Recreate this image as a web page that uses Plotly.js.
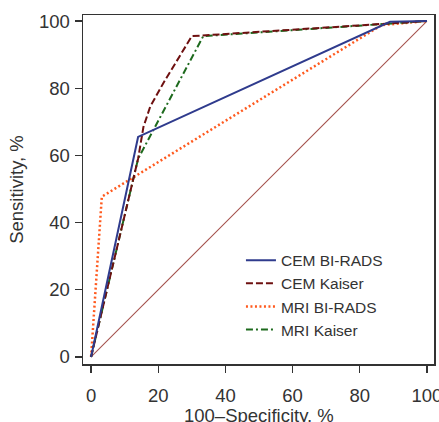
<!DOCTYPE html>
<html>
<head>
<meta charset="utf-8">
<script src="https://cdn.plot.ly/plotly-3.0.1.min.js"></script>
<style>html,body{margin:0;padding:0;background:#fff;}#chart{width:439px;height:422px;}</style>
</head>
<body>
<div id="chart"></div>
<script>
const seriesNames = ["CEM BI-RADS", "CEM Kaiser", "MRI BI-RADS", "MRI Kaiser"];
const cemBiradsX = [0, 14, 89, 100];
const cemBiradsY = [0, 65.5, 99.8, 100];
const cemKaiserX = [0, 14, 15.6, 17.6, 21.5, 30, 100];
const cemKaiserY = [0, 59, 68.5, 74.5, 81.5, 95.5, 100];
const mriBiradsX = [0, 3.2, 86.5, 100];
const mriBiradsY = [0, 47.7, 98.8, 100];
const mriKaiserX = [0, 14, 33.4, 100];
const mriKaiserY = [0, 59, 95.5, 100];
const refX = [0, 100];
const refY = [0, 100];
const tickVals = [0, 20, 40, 60, 80, 100];
const xTitle = '100–Specificity, %';
const yTitle = 'Sensitivity, %';

const traces = [
  {x: refX, y: refY, mode: 'lines', line: {color: '#a5524d', width: 1.1}, showlegend: false, hoverinfo: 'skip'},
  {x: mriBiradsX, y: mriBiradsY, name: seriesNames[2], legendrank: 3, mode: 'lines', line: {color: '#ff5a1e', width: 2.5, dash: '2px,2.5px'}},
  {x: mriKaiserX, y: mriKaiserY, name: seriesNames[3], legendrank: 4, mode: 'lines', line: {color: '#1d6a1d', width: 2, dash: '7px,3px,2px,3px'}},
  {x: cemKaiserX, y: cemKaiserY, name: seriesNames[1], legendrank: 2, mode: 'lines', line: {color: '#6e1010', width: 2, dash: '7px,3px'}},
  {x: cemBiradsX, y: cemBiradsY, name: seriesNames[0], legendrank: 1, mode: 'lines', line: {color: '#2f3b8d', width: 2}}
];

const axisCommon = {
  showgrid: false, zeroline: false, showline: true, mirror: true,
  linecolor: '#333', linewidth: 1.5, ticks: 'outside', ticklen: 7, tickwidth: 1.2, tickcolor: '#333',
  ticklabeloverflow: 'allow',
  tickvals: tickVals, tickfont: {family: 'Liberation Sans, Arial, sans-serif', size: 18.5, color: '#333'}
};

const layout = {
  width: 439, height: 422,
  margin: {l: 83, r: 5, t: 15, b: 58},
  paper_bgcolor: '#fff', plot_bgcolor: '#fff',
  font: {family: 'Liberation Sans, Arial, sans-serif', color: '#333'},
  xaxis: Object.assign({}, axisCommon, {range: [-2.4, 102.1], ticklabelstandoff: 7}),
  yaxis: Object.assign({}, axisCommon, {range: [-2.1, 101.8], ticklabelstandoff: 1, title: {text: yTitle, font: {size: 18.5, color: '#333'}, standoff: 10}}),
  annotations: [{
    text: xTitle, xref: 'x', yref: 'paper', x: 50, y: -0.148, xanchor: 'center', yanchor: 'middle',
    showarrow: false, font: {size: 18.5, color: '#333'}
  }],
  legend: {x: 0.45, y: 0.345, xanchor: 'left', yanchor: 'top', traceorder: 'normal', font: {size: 15.5, color: '#333'}, bgcolor: 'rgba(0,0,0,0)', tracegroupgap: 0},
  showlegend: true
};

Plotly.newPlot('chart', traces, layout, {displayModeBar: false, staticPlot: true});
</script>
</body>
</html>
